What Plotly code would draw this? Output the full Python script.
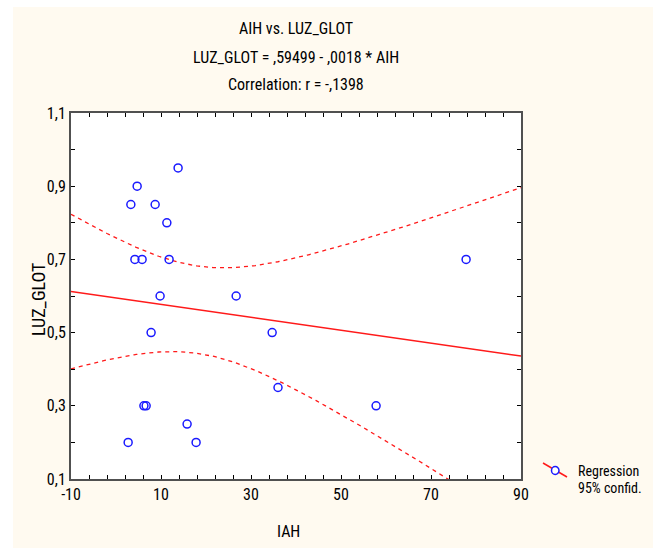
import numpy as np
import plotly.graph_objects as go

# Data
iah = [13.8, 4.7, 3.3, 8.7, 11.3, 4.2, 5.8, 11.8, 9.8, 26.7,
       7.8, 34.7, 36.0, 6.2, 6.7, 15.8, 2.7, 17.8, 57.8, 77.8]
luz_glot = [0.95, 0.90, 0.85, 0.85, 0.80, 0.70, 0.70, 0.70, 0.60, 0.60,
            0.50, 0.50, 0.35, 0.30, 0.30, 0.25, 0.20, 0.20, 0.30, 0.70]
x_ticks = [-10, 10, 30, 50, 70, 90]
y_ticks = [0.1, 0.3, 0.5, 0.7, 0.9, 1.1]
title_lines = ["AIH vs. LUZ_GLOT", "LUZ_GLOT = ,59499 - ,0018 * AIH", "Correlation: r = -,1398"]

x = np.array(iah)
y = np.array(luz_glot)
n = len(x)
slope, intercept = np.polyfit(x, y, 1)
resid = y - (intercept + slope * x)
s = np.sqrt(np.sum(resid ** 2) / (n - 2))
sxx = np.sum((x - x.mean()) ** 2)
t_crit = 2.1009  # t(0.975, df=18)

xs = np.linspace(-10, 90, 201)
fit = intercept + slope * xs
half = t_crit * s * np.sqrt(1.0 / n + (xs - x.mean()) ** 2 / sxx)

FONT = "Liberation Sans Narrow, Arial Narrow, Roboto Condensed, Liberation Sans, Arial, sans-serif"
RED = "#ff1a1a"
BLUE = "#1a1aff"

fig = go.Figure()
fig.add_trace(go.Scatter(x=xs, y=fit, mode="lines", line=dict(color=RED, width=1.5),
                         showlegend=False, hoverinfo="skip"))
fig.add_trace(go.Scatter(x=xs, y=fit + half, mode="lines", line=dict(color=RED, width=1.3, dash="4px,4px"),
                         showlegend=False, hoverinfo="skip"))
fig.add_trace(go.Scatter(x=xs, y=fit - half, mode="lines", line=dict(color=RED, width=1.3, dash="4px,4px"),
                         showlegend=False, hoverinfo="skip"))
fig.add_trace(go.Scatter(x=iah, y=luz_glot, mode="markers",
                         marker=dict(symbol="circle-open", size=8, color=BLUE, line=dict(width=1.5, color=BLUE)),
                         showlegend=False))

W, H = 659, 548
L, R, T, B = 71, 138, 113, 69
pw, ph = W - L - R, H - T - B

def px(p):
    return (p - L) / pw

def py(p):
    return (H - B - p) / ph

shapes = [
    # cream page background (leaving thin white border)
    dict(type="rect", xref="paper", yref="paper", x0=px(13), x1=px(653), y0=py(548), y1=py(7),
         fillcolor="#fffaf0", line=dict(width=0), layer="below"),
    # white plot area
    dict(type="rect", xref="x domain", yref="y domain", x0=0, x1=1, y0=0, y1=1,
         fillcolor="white", line=dict(width=0), layer="below"),
    # legend symbol
    dict(type="line", xref="paper", yref="paper", x0=px(543), y0=py(463), x1=px(567), y1=py(477),
         line=dict(color=RED, width=1.5)),
    dict(type="circle", xref="paper", yref="paper", x0=px(551.5), x1=px(559), y0=py(474.5), y1=py(466.5),
         fillcolor="white", line=dict(color=BLUE, width=1.5)),
]

annotations = []
for txt, yy in zip(title_lines, [28, 57, 84]):
    annotations.append(dict(text=txt, xref="paper", yref="paper", x=0.5, y=py(yy),
                            xanchor="center", yanchor="middle", showarrow=False,
                            font=dict(family=FONT, size=16, color="black")))
annotations.append(dict(text="IAH", xref="paper", yref="paper", x=px(288), y=py(531),
                        xanchor="center", yanchor="middle", showarrow=False,
                        font=dict(family=FONT, size=16, color="black")))
annotations.append(dict(text="LUZ_GLOT", xref="paper", yref="paper", x=px(38), y=py(300),
                        xanchor="center", yanchor="middle", showarrow=False, textangle=-90,
                        font=dict(family=FONT, size=18, color="black")))
annotations.append(dict(text="Regression", xref="paper", yref="paper", x=px(576), y=py(471),
                        xanchor="left", yanchor="middle", showarrow=False,
                        font=dict(family=FONT, size=14, color="black")))
annotations.append(dict(text="95% confid.", xref="paper", yref="paper", x=px(576), y=py(488),
                        xanchor="left", yanchor="middle", showarrow=False,
                        font=dict(family=FONT, size=14, color="black")))

axis_common = dict(showgrid=False, zeroline=False, showline=True, linecolor="#505050", linewidth=2,
                   mirror="ticks", ticks="inside", ticklen=4, tickwidth=1.2, tickcolor="black",
                   tickfont=dict(family=FONT, size=16, color="black"))

fig.update_layout(
    width=W, height=H,
    margin=dict(l=L, r=R, t=T, b=B, pad=0),
    paper_bgcolor="white", plot_bgcolor="white",
    separators=", ",
    showlegend=False,
    shapes=shapes, annotations=annotations,
    xaxis=dict(range=[-10, 90], tickmode="array", tickvals=x_ticks,
               ticktext=[str(v) for v in x_ticks],
               minor=dict(tick0=-10, dtick=4, ticks="inside", ticklen=4, tickcolor="black", tickwidth=1.2),
               **axis_common),
    yaxis=dict(range=[0.1, 1.1], tickmode="array", tickvals=y_ticks, tickformat=".1f",
               minor=dict(tick0=0.1, dtick=0.1, ticks="inside", ticklen=4, tickcolor="black", tickwidth=1.2),
               **axis_common),
)

fig.write_html("out.html", config={"displayModeBar": False},
               post_script="document.body.style.margin='0';")
